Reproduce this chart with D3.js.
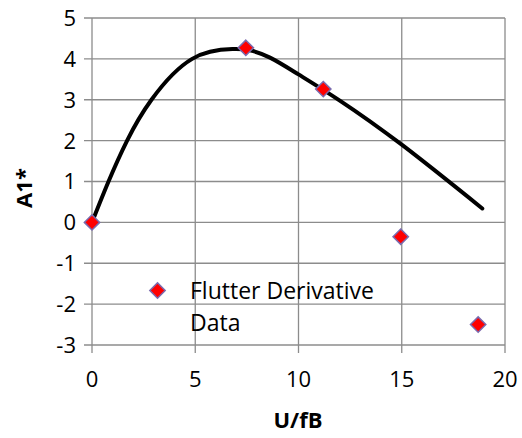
<!DOCTYPE html>
<html><head><meta charset="utf-8">
<script src="https://cdn.jsdelivr.net/npm/d3@7"></script>
<style>body{margin:0;background:#fff}svg{display:block}</style>
</head><body><svg id="c" width="522" height="438"></svg>
<script>
const dataX = [0, 7.45, 11.2, 14.95, 18.7];
const dataY = [0, 4.27, 3.26, -0.35, -2.5];
const curveX = [0, 0.8, 1.7, 2.88, 4.85, 6.8, 7.65, 8.62, 10, 12, 15, 18.9];
const curveY = [0, 1, 2, 3, 4, 4.24, 4.21, 4.03, 3.62, 2.98, 1.9, 0.34];
const xTicks = [0, 5, 10, 15, 20];
const yTicks = [-3, -2, -1, 0, 1, 2, 3, 4, 5];
const legendLabel = ["Flutter Derivative", "Data"];

const svg = d3.select("#c");
const font = "'Open Sans', sans-serif";
const x = d3.scaleLinear().domain([0, 20]).range([92, 505]);
const y = d3.scaleLinear().domain([-3, 5]).range([345, 18]);
const grid = "#8c8c8c";

// grid lines
svg.append("g").selectAll("line").data(yTicks).join("line")
  .attr("x1", 84).attr("x2", 505).attr("y1", d => y(d)).attr("y2", d => y(d))
  .attr("stroke", grid).attr("stroke-width", 1.3);
svg.append("g").selectAll("line").data(xTicks).join("line")
  .attr("x1", d => x(d)).attr("x2", d => x(d)).attr("y1", 18).attr("y2", 353)
  .attr("stroke", grid).attr("stroke-width", 1.3);

// tick labels
svg.append("g").selectAll("text").data(yTicks).join("text")
  .attr("x", 76).attr("y", d => y(d)).attr("dy", "0.36em")
  .attr("text-anchor", "end").attr("font-family", font).attr("font-size", 22)
  .text(d => d);
svg.append("g").selectAll("text").data(xTicks).join("text")
  .attr("x", d => x(d)).attr("y", 387)
  .attr("text-anchor", "middle").attr("font-family", font).attr("font-size", 22)
  .text(d => d);

// axis titles
svg.append("text").attr("x", 298).attr("y", 428).attr("text-anchor", "middle")
  .attr("font-family", font).attr("font-size", 22).attr("font-weight", "bold").text("U/fB");
svg.append("text").attr("transform", "translate(32,188) rotate(-90)").attr("text-anchor", "middle")
  .attr("font-family", font).attr("font-size", 22).attr("font-weight", "bold").text("A1*");

// curve
const pts = curveX.map((v, i) => [v, curveY[i]]);
svg.append("path").datum(pts)
  .attr("d", d3.line().x(d => x(d[0])).y(d => y(d[1])).curve(d3.curveNatural))
  .attr("fill", "none").attr("stroke", "#000").attr("stroke-width", 4).attr("stroke-linecap", "round");

// markers
const sym = d3.symbol().type(d3.symbolDiamond2).size(150);
svg.append("g").selectAll("path").data(dataX.map((v, i) => [v, dataY[i]])).join("path")
  .attr("d", sym).attr("transform", d => `translate(${x(d[0])},${y(d[1])})`)
  .attr("fill", "#ff0000").attr("stroke", "#7a6aae").attr("stroke-width", 1.5);

// legend
svg.append("path").attr("d", sym).attr("transform", "translate(157.5,290.5)")
  .attr("fill", "#ff0000").attr("stroke", "#7a6aae").attr("stroke-width", 1.5);
svg.append("g").selectAll("text").data(legendLabel).join("text")
  .attr("x", 190).attr("y", (d, i) => 299 + i * 32)
  .attr("font-family", font).attr("font-size", 23).text(d => d);
</script></body></html>
